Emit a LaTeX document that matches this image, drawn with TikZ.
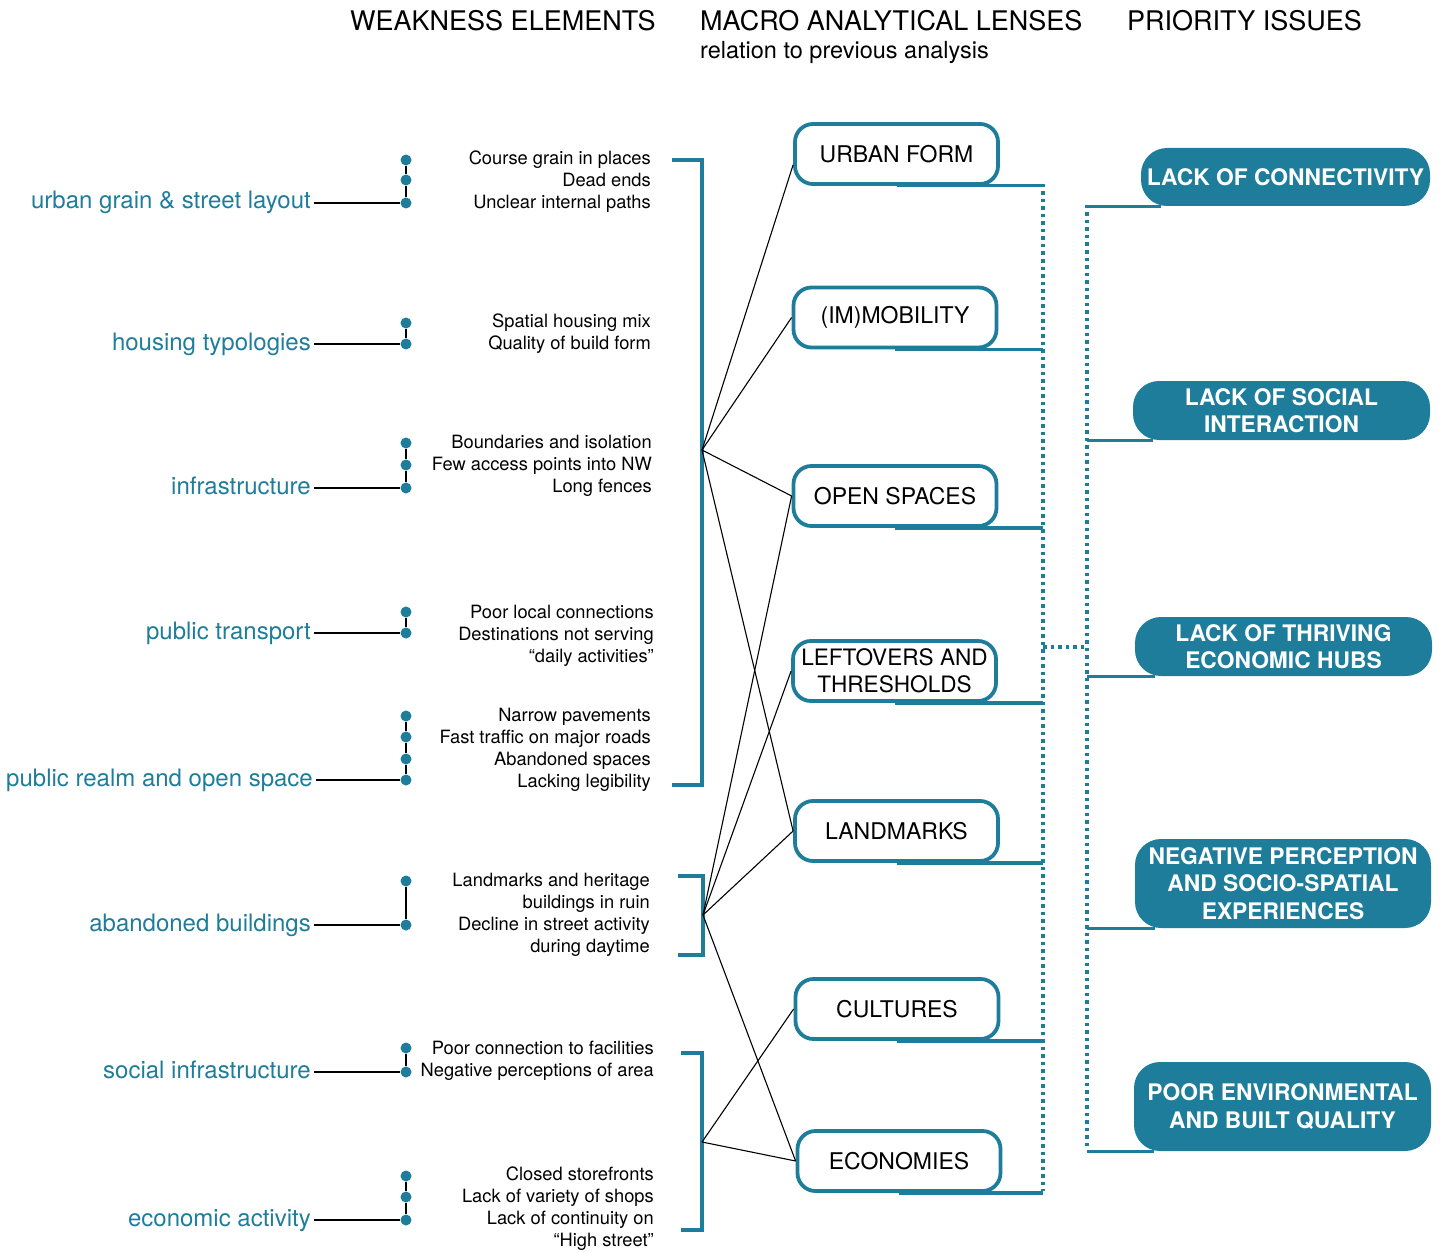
\documentclass[tikz,border=0pt]{standalone}
\usepackage{fontspec}
\setmainfont{TeX Gyre Heros}
\definecolor{tealA}{RGB}{30,125,155}
\begin{document}
\begin{tikzpicture}[x=1pt,y=-1pt,
  hdr/.style={anchor=base west,inner sep=0pt,font=\fontsize{27}{30}\selectfont},
  sub/.style={anchor=base west,inner sep=0pt,font=\fontsize{23.5}{26}\selectfont},
  lbl/.style={anchor=base east,inner sep=0pt,text=tealA,font=\fontsize{24}{28}\selectfont},
  wtext/.style={anchor=base east,inner sep=0pt,font=\fontsize{18.3}{22}\selectfont},
  wdot/.style={circle,fill=tealA,inner sep=0pt,minimum size=11pt},
  thin/.style={line width=1.1pt,black},
  brack/.style={line width=4pt,tealA},
  lens/.style={draw=tealA,line width=3.8pt,rounded corners=18pt,align=center,inner sep=0pt,
     minimum width=203pt,minimum height=60pt,font=\fontsize{23}{27}\selectfont},
  prio/.style={fill=tealA,rounded corners=26pt,align=center,inner sep=0pt,text=white,
     minimum width=297pt,minimum height=59pt,font=\bfseries\fontsize{22.8}{27.5}\selectfont},
  tl/.style={line width=3.2pt,tealA},
  dotl/.style={line width=3.5pt,tealA,dash pattern=on 3.5pt off 4pt}
]
\useasboundingbox (0,0) rectangle (1443,1252);

% headers
\node[hdr] (h1) at (350,31) {WEAKNESS ELEMENTS};
\node[hdr] (h2) at (700,31) {MACRO ANALYTICAL LENSES};
\node[hdr] (h3) at (1127,31) {PRIORITY ISSUES};
\node[sub] (h4) at (700,59) {relation to previous analysis};

% left labels
\node[lbl] (l1) at (311,209) {urban grain \& street layout};
\node[lbl] (l2) at (311,350) {housing typologies};
\node[lbl] (l3) at (311,494) {infrastructure};
\node[lbl] (l4) at (311,639) {public transport};
\node[lbl] (l5) at (313,786) {public realm and open space};
\node[lbl] (l6) at (311,931) {abandoned buildings};
\node[lbl] (l7) at (311,1078) {social infrastructure};
\node[lbl] (l8) at (311,1226) {economic activity};

% dots
\foreach \n/\y in {a1/160,a2/180,a3/203,
                   b1/323,b2/344,
                   c1/443,c2/465,c3/488,
                   d1/612,d2/633,
                   e1/716,e2/737,e3/759,e4/780,
                   f1/881,f2/925,
                   g1/1048,g2/1072,
                   h1/1176,h2/1197,h3/1220}
  \node[wdot] (\n) at (406,\y) {};

% dot chains and label links
\draw[thin] (a1) -- (a2) -- (a3);
\draw[thin] (b1) -- (b2);
\draw[thin] (c1) -- (c2) -- (c3);
\draw[thin] (d1) -- (d2);
\draw[thin] (e1) -- (e2) -- (e3) -- (e4);
\draw[thin] (f1) -- (f2);
\draw[thin] (g1) -- (g2);
\draw[thin] (h1) -- (h2) -- (h3);
\draw[thin] ([xshift=3pt]l1.east |- a3) -- (a3);
\draw[thin] ([xshift=3pt]l2.east |- b2) -- (b2);
\draw[thin] ([xshift=3pt]l3.east |- c3) -- (c3);
\draw[thin] ([xshift=3pt]l4.east |- d2) -- (d2);
\draw[thin] ([xshift=3pt]l5.east |- e4) -- (e4);
\draw[thin] ([xshift=3pt]l6.east |- f2) -- (f2);
\draw[thin] ([xshift=3pt]l7.east |- g2) -- (g2);
\draw[thin] ([xshift=3pt]l8.east |- h3) -- (h3);

% weakness texts
\foreach \x/\y/\t [count=\i] in {
  651/158/Course grain in places,
  651/180/Dead ends,
  651/202/Unclear internal paths,
  651/320/Spatial housing mix,
  651/342/Quality of build form,
  652/441/Boundaries and isolation,
  652/463/Few access points into NW,
  652/485/Long fences,
  654/611/Poor local connections,
  654/633/Destinations not serving,
  654/655/“daily activities”,
  651/714/Narrow pavements,
  651/736/Fast traffic on major roads,
  651/758/Abandoned spaces,
  651/780/Lacking legibility,
  650/879/Landmarks and heritage,
  650/901/buildings in ruin,
  650/923/Decline in street activity,
  650/945/during daytime,
  654/1047/Poor connection to facilities,
  654/1069/Negative perceptions of area,
  654/1173/Closed storefronts,
  654/1195/Lack of variety of shops,
  654/1217/Lack of continuity on,
  654/1239/“High street”}
  \node[wtext] (w\i) at (\x,\y+7) {\t};

% brackets
\coordinate (b1t) at (672,160); \coordinate (b1b) at (672,785);
\coordinate (k1) at (702,450);
\draw[brack] (b1t) -- (702,160) -- (702,785) -- (b1b);
\coordinate (b2t) at (678,876); \coordinate (b2b) at (678,955);
\coordinate (k2) at (703,915);
\draw[brack] (b2t) -- (703,876) -- (703,955) -- (b2b);
\coordinate (b3t) at (681,1053); \coordinate (b3b) at (681,1230);
\coordinate (k3) at (702,1142);
\draw[brack] (b3t) -- (702,1053) -- (702,1230) -- (b3b);

% lens boxes
\node[lens] (uf) at (896.5,154) {URBAN FORM};
\node[lens] (im) at (895,317.5) {(IM)MOBILITY};
\node[lens] (os) at (895,496) {OPEN SPACES};
\node[lens,font=\fontsize{22.6}{27}\selectfont] (lt) at (894.5,671) {LEFTOVERS AND\\THRESHOLDS};
\node[lens] (lm) at (896.5,831) {LANDMARKS};
\node[lens] (cu) at (897,1009) {CULTURES};
\node[lens] (ec) at (899,1161) {ECONOMIES};

% connectors
\draw[thin] (k1) -- (uf.186);
\draw[thin] (k1) -- (im.west);
\draw[thin] (k1) -- (os.west);
\draw[thin] (k1) -- (lm.west);
\draw[thin] (k2) -- (os.west);
\draw[thin] (k2) -- (lt.west);
\draw[thin] (k2) -- (lm.west);
\draw[thin] (k2) -- (ec.west);
\draw[thin] (k3) -- (cu.west);
\draw[thin] (k3) -- (ec.west);

% lens bus
\coordinate (dx1) at (1043,184); \coordinate (dx2) at (1043,1191);
\foreach \n in {uf,im,os,lt,lm,cu,ec}
  \draw[tl] (\n.south) -- (\n.south -| dx1);
\draw[dotl] (dx1) -- (dx2);
\coordinate (m1) at (1043,647); \coordinate (m2) at (1087,647);
\draw[dotl] (m1) -- (m2);

% priority boxes
\node[prio,minimum width=289pt,minimum height=58pt] (p1) at (1285.5,177) {LACK OF CONNECTIVITY};
\node[prio] (p2) at (1281.5,410.5) {LACK OF SOCIAL\\INTERACTION};
\node[prio] (p3) at (1283.5,646.5) {LACK OF THRIVING\\ECONOMIC HUBS};
\node[prio,minimum width=296pt,minimum height=89pt] (p4) at (1283,883.5) {NEGATIVE PERCEPTION\\AND SOCIO-SPATIAL\\EXPERIENCES};
\node[prio,minimum height=89pt] (p5) at (1282.5,1106.5) {POOR ENVIRONMENTAL\\AND BUILT QUALITY};

\coordinate (px1) at (1087,205); \coordinate (px2) at (1087,1148);
\draw[dotl] (px1) -- (px2);
\foreach \n in {p1,p2,p3,p4,p5}
  \draw[tl] (px1 |- \n.south) -- ([xshift=20pt]\n.south west);
\end{tikzpicture}
\end{document}
